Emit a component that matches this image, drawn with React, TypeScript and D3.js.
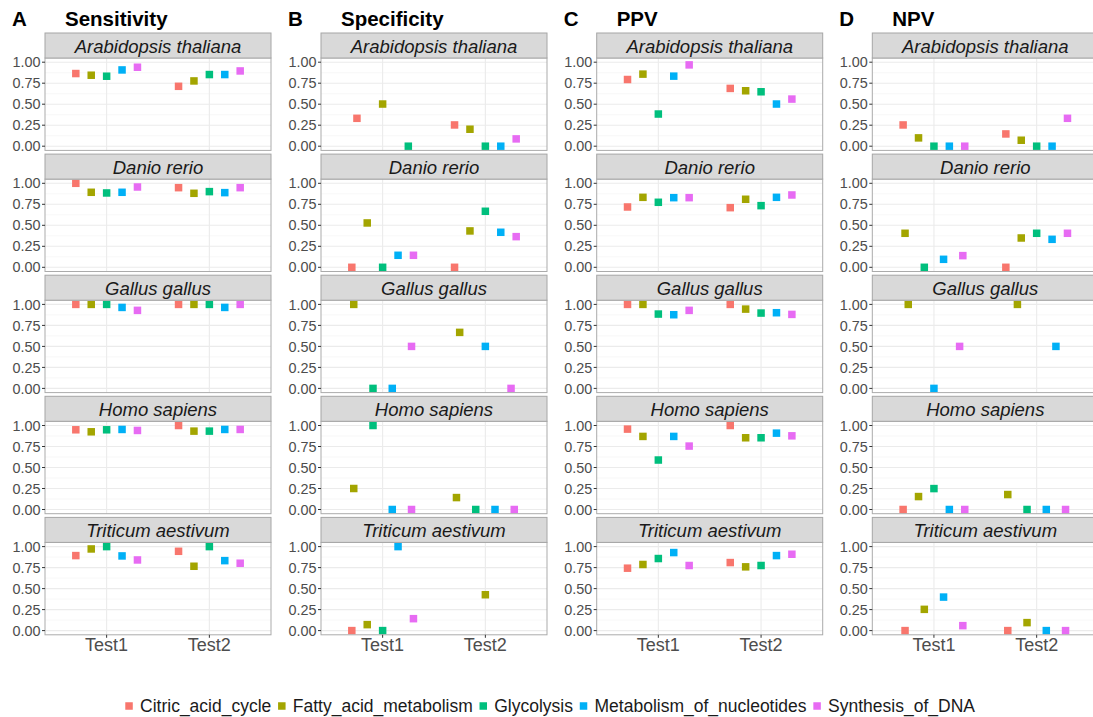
import React from "react";
import * as d3 from "d3";

const metrics = ["Sensitivity", "Specificity", "PPV", "NPV"];
const panelLetters = ["A", "B", "C", "D"];
const species = ["Arabidopsis thaliana", "Danio rerio", "Gallus gallus", "Homo sapiens", "Triticum aestivum"];
const tests = ["Test1", "Test2"];
const pathways = ["Citric_acid_cycle", "Fatty_acid_metabolism", "Glycolysis", "Metabolism_of_nucleotides", "Synthesis_of_DNA"];
const pathwayColors = ["#F8766D", "#A3A500", "#00BF7D", "#00B0F6", "#E76BF3"];
const yTicks = [0, 0.25, 0.5, 0.75, 1];
const yTickLabels = ["0.00", "0.25", "0.50", "0.75", "1.00"];
const yMinor = [0.125, 0.375, 0.625, 0.875];

// values[species][test][pathway]; null = not present
const sensitivity: (number | null)[][][] = [
  [[0.865, 0.845, 0.833, 0.908, 0.94], [0.713, 0.777, 0.853, 0.853, 0.896]],
  [[1.0, 0.893, 0.885, 0.893, 0.956], [0.948, 0.881, 0.901, 0.889, 0.948]],
  [[1.0, 1.0, 1.0, 0.964, 0.929], [1.0, 1.0, 1.0, 0.964, 1.0]],
  [[0.949, 0.925, 0.949, 0.953, 0.941], [1.0, 0.933, 0.933, 0.953, 0.953]],
  [[0.893, 0.972, 1.0, 0.889, 0.841], [0.944, 0.766, 1.0, 0.833, 0.802]],
];
const specificity: (number | null)[][][] = [
  [[0.332, 0.502, 0.0, null, null], [0.253, 0.202, 0.0, 0.0, 0.087]],
  [[0.0, 0.528, 0.0, 0.143, 0.143], [0.0, 0.433, 0.667, 0.417, 0.365]],
  [[null, 1.0, 0.0, 0.0, 0.5], [null, 0.667, null, 0.5, 0.0]],
  [[null, 0.25, 1.0, 0.0, 0.0], [null, 0.142, 0.0, 0.0, 0.0]],
  [[0.0, 0.071, 0.0, 1.0, 0.142], [null, 0.427, null, null, null]],
];
const ppv: (number | null)[][][] = [
  [[0.794, 0.858, 0.383, 0.834, 0.968], [0.688, 0.66, 0.648, 0.502, 0.561]],
  [[0.718, 0.833, 0.774, 0.829, 0.829], [0.71, 0.81, 0.734, 0.833, 0.861]],
  [[1.0, 1.0, 0.885, 0.877, 0.929], [1.0, 0.944, 0.897, 0.901, 0.881]],
  [[0.957, 0.87, 0.589, 0.87, 0.755], [1.0, 0.854, 0.854, 0.909, 0.877]],
  [[0.743, 0.787, 0.858, 0.929, 0.775], [0.81, 0.759, 0.775, 0.893, 0.909]],
];
const npv: (number | null)[][][] = [
  [[0.253, 0.099, 0.0, 0.0, 0.0], [0.146, 0.071, 0.0, 0.0, 0.332]],
  [[null, 0.405, 0.0, 0.095, 0.139], [0.0, 0.349, 0.405, 0.333, 0.405]],
  [[null, 1.0, null, 0.0, 0.5], [null, 1.0, null, 0.5, null]],
  [[0.0, 0.154, 0.249, 0.0, 0.0], [null, 0.178, 0.0, 0.0, 0.0]],
  [[0.0, 0.253, null, 0.399, 0.059], [0.0, 0.095, null, 0.0, 0.0]],
];
const metricData = [sensitivity, specificity, ppv, npv];

const W = 1093;
const H = 717;
const FONT = "'Liberation Sans', Arial, Helvetica, sans-serif";
const panelLefts = [45, 321, 596.7, 872.3];
const panelW = 226;
const rowTop0 = 33;
const rowStep = 121.1;
const stripH = 25;
const panelH = 92.4;
const dodgeWidth = 0.75;
const pointSize = 7.5;

function measure(text: string, font: string): number {
  if (typeof document === "undefined") return text.length * 9;
  const c = document.createElement("canvas");
  const ctx = c.getContext("2d");
  if (!ctx) return text.length * 9;
  ctx.font = font;
  return ctx.measureText(text).width;
}

export default function App() {
  const legendFontSize = 17.5;
  const legendFont = `${legendFontSize}px ${FONT}`;
  const textWidths = pathways.map((p) => measure(p, legendFont));
  const keyToText = 11;
  const textToKey = 10.5;
  const sqHalf = pointSize / 2;
  let total = sqHalf;
  textWidths.forEach((w, i) => {
    total += keyToText + w + (i < textWidths.length - 1 ? textToKey : 0);
  });
  total += sqHalf;
  const legendStart = 552 - total / 2;
  const legendItems: { cx: number; tx: number }[] = [];
  let cur = legendStart + sqHalf;
  textWidths.forEach((w) => {
    legendItems.push({ cx: cur, tx: cur + keyToText });
    cur = cur + keyToText + w + textToKey;
  });
  const legendY = 706;

  return (
    <svg width={W} height={H} style={{ position: "absolute", left: 0, top: 0, background: "#fff" }} fontFamily={FONT}>
      <rect x={0} y={0} width={W} height={H} fill="#fff" />
      {metrics.map((m, mi) => {
        const left = panelLefts[mi];
        const x = d3.scaleLinear().domain([0.4, 2.6]).range([left, left + panelW]);
        return (
          <g key={m}>
            <text x={left - 33} y={26} fontSize={20.5} fontWeight="bold" fill="#000">
              {panelLetters[mi]}
            </text>
            <text x={left + 20} y={26} fontSize={20.5} fontWeight="bold" fill="#000">
              {m}
            </text>
            {species.map((sp, si) => {
              const top = rowTop0 + si * rowStep;
              const pTop = top + stripH;
              const y = d3.scaleLinear().domain([-0.05, 1.05]).range([pTop + panelH, pTop]);
              const vals = metricData[mi][si];
              return (
                <g key={sp}>
                  <rect x={left} y={pTop} width={panelW} height={panelH} fill="#fff" />
                  {yMinor.map((v) => (
                    <line key={"mn" + v} x1={left} x2={left + panelW} y1={y(v)} y2={y(v)} stroke="#F2F2F2" strokeWidth={0.6} />
                  ))}
                  {yTicks.map((v) => (
                    <line key={"mj" + v} x1={left} x2={left + panelW} y1={y(v)} y2={y(v)} stroke="#EBEBEB" strokeWidth={1.1} />
                  ))}
                  {tests.map((t, ti) => (
                    <line key={t} x1={x(ti + 1)} x2={x(ti + 1)} y1={pTop} y2={pTop + panelH} stroke="#EBEBEB" strokeWidth={1.1} />
                  ))}
                  {tests.map((t, ti) => {
                    const row = vals[ti];
                    const present = row.map((v, pi) => ({ v, pi })).filter((d) => d.v !== null && d.v !== undefined);
                    const n = present.length;
                    return present.map((d, k) => {
                      const off = -dodgeWidth / 2 + (dodgeWidth * (k + 0.5)) / n;
                      const cx = x(ti + 1 + off);
                      const cy = y(d.v as number);
                      return (
                        <rect
                          key={t + d.pi}
                          x={cx - pointSize / 2}
                          y={cy - pointSize / 2}
                          width={pointSize}
                          height={pointSize}
                          fill={pathwayColors[d.pi]}
                        />
                      );
                    });
                  })}
                  <rect x={left} y={pTop} width={panelW} height={panelH} fill="none" stroke="#ABABAB" strokeWidth={1} />
                  <rect x={left} y={top} width={panelW} height={stripH} fill="#D9D9D9" stroke="#A6A6A6" strokeWidth={1} />
                  <text x={left + panelW / 2} y={top + 19.5} textAnchor="middle" fontSize={18.5} fontStyle="italic" fill="#1A1A1A">
                    {sp}
                  </text>
                  {yTicks.map((v, vi) => (
                    <g key={"t" + v}>
                      <line x1={left - 3} x2={left} y1={y(v)} y2={y(v)} stroke="#333" strokeWidth={1} />
                      <text x={left - 4.5} y={y(v)} dy="0.36em" textAnchor="end" fontSize={14.4} fill="#4D4D4D">
                        {yTickLabels[vi]}
                      </text>
                    </g>
                  ))}
                  {si === species.length - 1 &&
                    tests.map((t, ti) => (
                      <g key={"xt" + t}>
                        <line x1={x(ti + 1)} x2={x(ti + 1)} y1={pTop + panelH} y2={pTop + panelH + 3} stroke="#333" strokeWidth={1} />
                        <text x={x(ti + 1)} y={651} textAnchor="middle" fontSize={18} fill="#4D4D4D">
                          {t}
                        </text>
                      </g>
                    ))}
                </g>
              );
            })}
          </g>
        );
      })}
      {pathways.map((p, i) => (
        <g key={p}>
          <rect
            x={legendItems[i].cx - pointSize / 2}
            y={legendY - pointSize / 2}
            width={pointSize}
            height={pointSize}
            fill={pathwayColors[i]}
          />
          <text x={legendItems[i].tx} y={legendY} dy="0.36em" fontSize={legendFontSize} fill="#1A1A1A">
            {p}
          </text>
        </g>
      ))}
    </svg>
  );
}
